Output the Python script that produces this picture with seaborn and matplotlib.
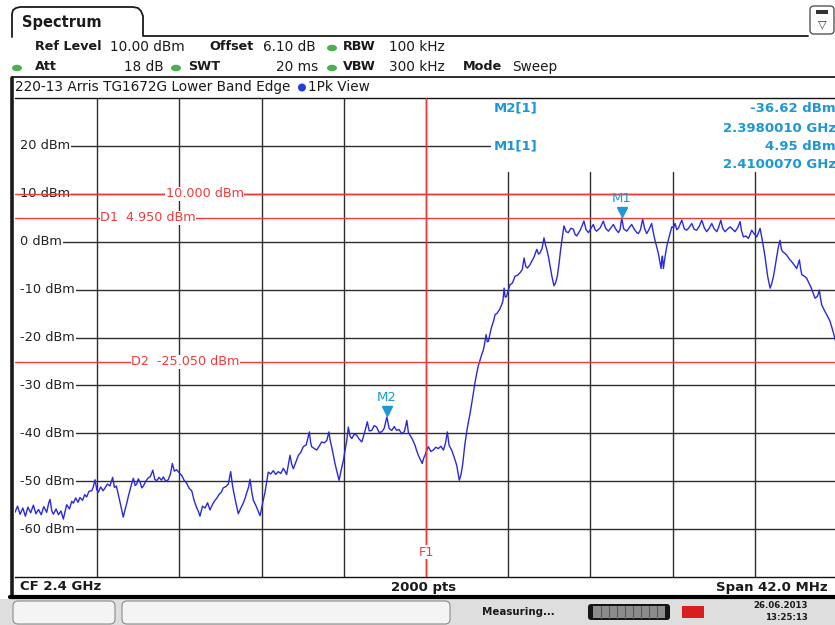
import numpy as np
import matplotlib.pyplot as plt
import matplotlib.patches as mpatches
from matplotlib.transforms import offset_copy
import seaborn as sns

# spectrum trace (offset in MHz from start freq, level in dBm)
start_mhz = 2379.0
span_mhz = 42.0
offset_mhz = [
    0.00, 0.13, 0.26, 0.40, 0.53, 0.66, 0.80, 0.94, 1.07, 1.20, 1.34, 1.47, 1.62, 1.72, 1.79, 1.88,
    1.96, 2.10, 2.22, 2.35, 2.47, 2.56, 2.64, 2.78, 2.90, 2.98, 3.10, 3.22, 3.32, 3.45, 3.56, 3.66,
    3.78, 3.92, 4.00, 4.09, 4.18, 4.26, 4.38, 4.50, 4.60, 4.72, 4.85, 4.99, 5.08, 5.18, 5.28, 5.40,
    5.53, 5.62, 5.71, 5.80, 5.88, 5.96, 6.05, 6.14, 6.22, 6.30, 6.39, 6.48, 6.56, 6.68, 6.81, 6.92,
    7.04, 7.14, 7.24, 7.36, 7.48, 7.58, 7.70, 7.83, 7.94, 8.04, 8.14, 8.26, 8.40, 8.52, 8.64, 8.77,
    8.90, 9.03, 9.15, 9.28, 9.38, 9.45, 9.58, 9.71, 9.84, 9.96, 10.10, 10.20, 10.30, 10.42, 10.54,
    10.64, 10.78, 10.90, 11.02, 11.10, 11.16, 11.28, 11.41, 11.54, 11.67, 11.76, 11.84, 11.93, 12.01,
    12.10, 12.18, 12.30, 12.42, 12.52, 12.64, 12.77, 12.86, 12.94, 13.06, 13.20, 13.32, 13.45, 13.58,
    13.71, 13.88, 14.05, 14.14, 14.22, 14.35, 14.48, 14.60, 14.73, 14.88, 15.04, 15.10, 15.16, 15.30,
    15.42, 15.55, 15.67, 15.80, 15.93, 16.04, 16.10, 16.18, 16.26, 16.35, 16.46, 16.56, 16.66, 16.78,
    16.87, 16.95, 17.03, 17.12, 17.21, 17.33, 17.46, 17.58, 17.72, 17.86, 18.00, 18.10, 18.23, 18.35,
    18.48, 18.60, 18.74, 18.86, 19.00, 19.12, 19.25, 19.38, 19.50, 19.62, 19.76, 19.90, 20.02, 20.10,
    20.18, 20.30, 20.44, 20.52, 20.61, 20.71, 20.81, 20.88, 20.95, 21.04, 21.12, 21.25, 21.37, 21.50,
    21.63, 21.76, 21.89, 22.00, 22.09, 22.18, 22.31, 22.44, 22.57, 22.64, 22.70, 22.79, 22.88, 22.98,
    23.08, 23.16, 23.25, 23.39, 23.50, 23.59, 23.68, 23.76, 23.85, 23.93, 24.00, 24.07, 24.13, 24.19,
    24.28, 24.36, 24.45, 24.53, 24.62, 24.70, 24.78, 24.87, 24.93, 24.99, 25.05, 25.12, 25.20, 25.29,
    25.42, 25.55, 25.68, 25.80, 25.92, 26.01, 26.10, 26.18, 26.30, 26.40, 26.52, 26.66, 26.75, 26.83,
    26.93, 27.03, 27.10, 27.17, 27.25, 27.34, 27.44, 27.54, 27.62, 27.71, 27.80, 27.88, 27.96, 28.05,
    28.16, 28.27, 28.40, 28.53, 28.62, 28.70, 28.88, 29.07, 29.18, 29.30, 29.42, 29.55, 29.64, 29.72,
    29.90, 30.06, 30.18, 30.32, 30.45, 30.57, 30.70, 30.83, 30.92, 31.00, 31.10, 31.26, 31.38, 31.51,
    31.64, 31.77, 31.85, 31.96, 32.07, 32.18, 32.28, 32.40, 32.53, 32.62, 32.70, 32.87, 32.95, 33.01,
    33.05, 33.08, 33.13, 33.20, 33.30, 33.44, 33.56, 33.65, 33.73, 33.81, 33.89, 34.07, 34.20, 34.32,
    34.45, 34.58, 34.70, 34.83, 34.96, 35.09, 35.22, 35.34, 35.47, 35.60, 35.72, 35.86, 35.96, 36.06,
    36.16, 36.28, 36.40, 36.54, 36.66, 36.79, 36.92, 37.05, 37.12, 37.22, 37.34, 37.47, 37.56, 37.64,
    37.78, 37.90, 37.98, 38.07, 38.14, 38.21, 38.32, 38.46, 38.58, 38.66, 38.75, 38.84, 38.92, 39.00,
    39.09, 39.16, 39.23, 39.33, 39.43, 39.56, 39.69, 39.82, 39.94, 40.08, 40.14, 40.20, 40.33, 40.45,
    40.56, 40.66, 40.77, 40.88, 41.00, 41.10, 41.16, 41.22, 41.35, 41.48, 41.56, 41.65, 41.78, 41.91,
    42.00,
]
level_dbm = [
    -56.5, -55.2, -56.9, -55.6, -57.3, -55.4, -56.6, -55.0, -56.8, -55.9, -57.0, -55.3, -56.5, -54.6, -53.8, -56.2,
    -56.9, -55.8, -57.0, -56.2, -57.9, -56.3, -54.9, -55.8, -54.2, -54.6, -53.5, -54.4, -53.4, -54.0, -52.8, -53.3,
    -52.1, -52.0, -51.2, -49.7, -51.8, -52.3, -51.2, -52.0, -51.4, -50.6, -51.0, -49.2, -51.3, -51.0, -52.8, -55.0,
    -57.5, -56.0, -54.6, -53.0, -51.8, -50.5, -49.4, -50.9, -50.6, -49.5, -50.2, -51.4, -51.0, -50.0, -49.3, -49.0,
    -47.7, -49.6, -49.9, -49.2, -49.8, -49.1, -50.0, -49.7, -48.5, -46.3, -47.9, -47.6, -48.3, -48.8, -49.8, -50.4,
    -51.5, -52.0, -54.0, -55.5, -56.4, -57.3, -55.2, -55.6, -54.5, -56.0, -54.8, -54.1, -53.6, -52.8, -52.3,
    -51.4, -51.1, -50.6, -48.0, -50.5, -52.0, -54.4, -56.8, -55.6, -54.5, -53.5, -52.4, -51.3, -49.6,
    -52.3, -54.0, -55.0, -56.2, -57.2, -54.8, -52.4, -50.1, -48.1, -48.5, -47.8, -48.6, -48.0, -48.4,
    -47.3, -48.6, -44.6, -46.5, -47.4, -46.0, -44.6, -44.0, -42.8, -42.4, -39.7, -41.8, -42.8, -43.2,
    -43.5, -42.6, -41.8, -42.0, -41.5, -39.7, -41.4, -42.8, -44.5, -46.3, -48.2, -49.8, -47.8, -45.6,
    -43.4, -41.5, -38.7, -40.6, -41.1, -40.2, -40.4, -41.2, -41.8, -39.9, -37.6, -39.5, -39.4, -38.4,
    -38.7, -39.8, -39.7, -39.0, -36.62, -39.0, -39.4, -38.6, -39.4, -39.2, -40.1, -39.6, -37.3, -39.8,
    -40.4, -41.2, -42.5, -43.6, -44.6, -45.5, -46.3, -45.2, -44.6, -43.5, -42.8, -43.8, -43.5, -42.9,
    -43.2, -42.7, -43.5, -42.0, -39.7, -42.5, -43.5, -45.0, -46.7, -48.4, -49.8, -48.6, -46.3, -42.5,
    -39.7, -37.8, -35.9, -32.4, -29.5, -27.5, -25.8, -24.7, -23.5, -22.6, -21.2, -19.4, -20.9, -20.8,
    -19.0, -17.7, -16.6, -15.2, -15.0, -14.5, -14.0, -13.1, -12.4, -9.7, -11.6, -11.4, -10.2, -9.0,
    -8.6, -7.2, -7.0, -6.5, -5.8, -3.4, -5.2, -5.5, -4.9, -4.1, -3.2, -1.6, -2.6, -2.3,
    -1.4, 0.8, -0.6, -1.6, -3.0, -5.1, -7.4, -9.2, -8.6, -7.2, -4.5, -1.6, 0.8, 3.3,
    2.1, 1.9, 2.8, 2.6, 1.5, 1.2, 2.4, 4.3, 2.5, 1.9, 2.7, 3.6, 2.5, 2.2,
    2.9, 4.3, 2.8, 2.2, 2.9, 3.6, 2.6, 1.9, 2.6, 4.95, 2.7, 2.2, 2.9, 3.6,
    2.6, 1.9, 1.7, 2.5, 4.7, 2.6, 1.7, 2.6, 3.8, 1.8, 0.3, -2.4, -4.2, -5.6,
    -3.6, -3.0, -5.6, -3.5, -1.0, 1.3, 3.1, 2.9, 3.8, 2.5, 2.8, 4.5, 2.7, 2.4,
    3.0, 3.8, 2.6, 2.4, 3.2, 4.5, 2.9, 2.1, 2.8, 3.8, 2.7, 2.1, 3.1, 4.5,
    2.8, 2.1, 2.6, 3.1, 2.6, 2.1, 2.9, 4.2, 2.3, 1.0, 1.2, 0.7, 1.5, 2.4,
    1.6, 1.0, 1.8, 2.8, 1.2, -0.3, -3.1, -7.3, -9.7, -8.8, -7.3, -5.2, -3.1, -1.2,
    0.3, -1.6, -2.1, -2.4, -2.8, -3.6, -4.2, -4.9, -5.6, -3.8, -5.6, -6.9, -7.2, -7.6,
    -8.6, -9.4, -10.6, -11.8, -11.4, -10.1, -11.9, -13.2, -14.3, -15.3, -15.9, -16.7, -18.5, -20.5,
    -21.6,
]

# y grid / labels
ref_levels = [20, 10, 0, -10, -20, -30, -40, -50, -60]
ref_labels = ["20 dBm", "10 dBm", "0 dBm", "-10 dBm", "-20 dBm", "-30 dBm", "-40 dBm", "-50 dBm", "-60 dBm"]

# markers and display lines
marker_names = ["M1", "M2"]
marker_freq_mhz = [2410.007, 2398.001]
marker_level = [4.95, -36.62]
line_levels = [10.0, 4.95, -25.05]
line_labels = ["10.000 dBm", "D1  4.950 dBm", "D2  -25.050 dBm"]
line_label_freq = [2388.7, 2383.35, 2384.95]
f1_mhz = 2400.0

trace_df = {"freq": [start_mhz + o for o in offset_mhz], "level": level_dbm}

sns.set_style("white")
plt.rcParams['font.family'] = ['DejaVu Sans']

RED = "#ee3b3b"
CYAN = "#1e98d4"
BLUE = "#2a2adb"
GRID = "#2e2e2e"

fig = plt.figure(figsize=(8.35, 6.25), dpi=100)
fig.patch.set_facecolor("white")

# plot area in pixels: x 15..837, y 98..577
ax = fig.add_axes([15 / 835, (625 - 577) / 625, 822 / 835, 479 / 625], zorder=1)
ax.set_xlim(start_mhz, start_mhz + span_mhz)
ax.set_ylim(-70, 30)
ax.set_xticks([])
ax.set_yticks([])
for s in ["left", "right"]:
    ax.spines[s].set_visible(False)
for s in ["top", "bottom"]:
    ax.spines[s].set_color("#111111")
    ax.spines[s].set_linewidth(1.0)

# grid
for k in range(1, 10):
    xv = start_mhz + k * span_mhz / 10
    top = 0.845 if k >= 6 else 1.0
    ax.axvline(xv, ymin=0, ymax=top, color=GRID, lw=1.0, zorder=1)
for lv in ref_levels:
    xmax = 0.578 if lv == 20 else 1.0
    ax.axhline(lv, xmin=0.01, xmax=xmax, color=GRID, lw=1.0, zorder=1)
for lv, lab in zip(ref_levels, ref_labels):
    ax.text(0.006, lv, lab, transform=ax.get_yaxis_transform(), fontsize=9.3, color="#222222",
            va="center", ha="left", zorder=2,
            bbox=dict(facecolor="white", edgecolor="none", pad=0.8))

# trace
sns.lineplot(data=trace_df, x="freq", y="level", ax=ax, color=BLUE, linewidth=1.0,
             estimator=None, zorder=3)
ax.set_xlabel("")
ax.set_ylabel("")

# display lines
for lv, lab, fx in zip(line_levels, line_labels, line_label_freq):
    ax.axhline(lv, color=RED, lw=1.0, zorder=4)
    ha = "center" if lab.startswith("10") else "left"
    ax.text(fx, lv, lab, fontsize=9.2, color=RED, ha=ha, va="center", zorder=5,
            bbox=dict(facecolor="white", edgecolor="none", pad=0.4))
ax.axvline(f1_mhz, color=RED, lw=1.0, zorder=4)
ax.text(f1_mhz, -64.8, "F1", fontsize=9.2, color=RED, ha="center", va="center", zorder=5,
        bbox=dict(facecolor="white", edgecolor="none", pad=0.4))

# markers
tri = offset_copy(ax.transData, fig=fig, x=0, y=4.5, units="points")
for name, mf, ml in zip(marker_names, marker_freq_mhz, marker_level):
    ax.plot([mf], [ml], marker="v", color=CYAN, markersize=6.5, transform=tri, zorder=6)
    ax.annotate(name, xy=(mf, ml), xytext=(0, 14), textcoords="offset points",
                ha="center", va="center", fontsize=9.5, color=CYAN, zorder=6)

# ---- instrument chrome, drawn in pixel coordinates ----
ov = fig.add_axes([0, 0, 1, 1], zorder=2)
ov.set_xlim(0, 835)
ov.set_ylim(625, 0)
ov.axis("off")
ov.patch.set_alpha(0)

dark = "#1a1a1a"
# tab
tab_x = [12, 12, 13, 16, 20, 133, 138, 141, 143, 143, 808]
tab_y = [37, 14, 10, 8, 7, 7, 8, 11, 16, 36, 36]
ov.plot(tab_x, tab_y, color=dark, lw=1.3)
ov.text(22, 22, "Spectrum", fontsize=10.5, fontweight="bold", color=dark, va="center")
ov.add_patch(mpatches.FancyBboxPatch((810, 6), 24, 28, boxstyle="round,pad=0,rounding_size=4",
                                     fc="white", ec="#555555", lw=1))
ov.text(822, 24, "▽", fontsize=8, color="#333333", ha="center", va="center")
ov.add_patch(mpatches.Rectangle((816, 10), 12, 4, fc="#333333", ec="none"))

# settings rows
def kv(x, y, txt, bold=False, ha="left"):
    ov.text(x, y, txt, fontsize=9.2 if bold else 9.8, fontweight="bold" if bold else "normal",
            color=dark, ha=ha, va="center")

def dot(x, y):
    ov.add_patch(mpatches.Ellipse((x, y), 10, 6.5, fc="#4caf50", ec="none"))

kv(35, 47, "Ref Level", True); kv(110, 47, "10.00 dBm")
kv(209, 47, "Offset", True); kv(263, 47, "6.10 dB")
dot(332, 48); kv(343, 47, "RBW", True); kv(389, 47, "100 kHz")
dot(17, 68); kv(35, 67, "Att", True); kv(164, 67, "18 dB", ha="right")
dot(176, 68); kv(188, 67, "SWT", True); kv(318, 67, "20 ms", ha="right")
dot(332, 68); kv(343, 67, "VBW", True); kv(389, 67, "300 kHz")
kv(463, 67, "Mode", True); kv(512, 67, "Sweep")

ov.plot([12, 835], [77, 77], color=dark, lw=1.3)
ov.plot([12, 12], [78, 597], color=dark, lw=2.6)
ov.text(15, 87, "220-13 Arris TG1672G Lower Band Edge", fontsize=9.8, color=dark, va="center")
ov.add_patch(mpatches.Ellipse((302, 87.5), 8, 8, fc="#1f3fd6", ec="none"))
ov.text(308, 87, "1Pk View", fontsize=9.8, color=dark, va="center")

# marker table
for y, left, right in [(108, "M2[1]", "-36.62 dBm"), (128, None, "2.3980010 GHz"),
                       (146, "M1[1]", "4.95 dBm"), (164, None, "2.4100070 GHz")]:
    if left:
        ov.text(494, y, left, fontsize=9.5, fontweight="bold", color=CYAN, va="center")
    ov.text(836, y, right, fontsize=9.5, fontweight="bold", color=CYAN, va="center", ha="right")

# status line under plot
ov.text(20, 587, "CF 2.4 GHz", fontsize=9.5, fontweight="bold", color=dark, va="center")
ov.text(424, 587, "2000 pts", fontsize=9.5, fontweight="bold", color=dark, va="center", ha="center")
ov.text(828, 587, "Span 42.0 MHz", fontsize=9.5, fontweight="bold", color=dark, va="center", ha="right")
ov.plot([10, 835], [597, 597], color="black", lw=3)

# bottom bar
ov.add_patch(mpatches.Rectangle((0, 599), 835, 26, fc="#dedede", ec="none"))
ov.add_patch(mpatches.FancyBboxPatch((13, 601), 102, 23, boxstyle="round,pad=0,rounding_size=5",
                                     fc="#f4f4f4", ec="#8a8a8a", lw=0.8))
ov.add_patch(mpatches.FancyBboxPatch((122, 601), 328, 23, boxstyle="round,pad=0,rounding_size=5",
                                     fc="#f4f4f4", ec="#8a8a8a", lw=0.8))
ov.text(482, 612, "Measuring...", fontsize=7.4, fontweight="bold", color=dark, va="center")
ov.add_patch(mpatches.FancyBboxPatch((588, 604), 82, 16, boxstyle="round,pad=0,rounding_size=3",
                                     fc="#151515", ec="none"))
ov.add_patch(mpatches.Rectangle((593, 606), 72, 12, fc="#8c8c8c", ec="none"))
for sx in range(601, 665, 8):
    ov.plot([sx, sx], [606, 618], color="#5a5a5a", lw=0.8)
ov.add_patch(mpatches.Rectangle((682, 606), 22, 12, fc="#d81e1e", ec="none"))
ov.text(808, 605, "26.06.2013", fontsize=6.2, fontweight="bold", color=dark, va="center", ha="right")
ov.text(808, 618, "13:25:13", fontsize=6.2, fontweight="bold", color=dark, va="center", ha="right")

fig.savefig("out.png", dpi=100, facecolor="white")
